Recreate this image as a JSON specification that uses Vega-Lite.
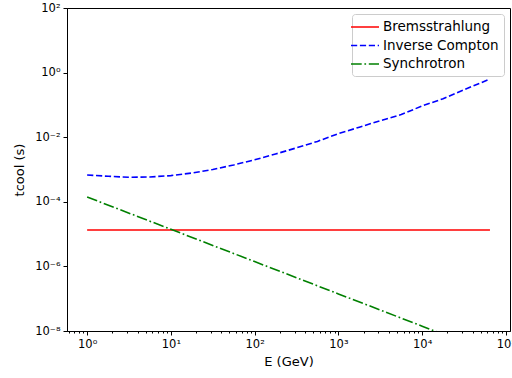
{
  "$schema": "https://vega.github.io/schema/vega-lite/v6.json",
  "autosize": "none",
  "width": 443,
  "height": 323,
  "padding": {"left": 67, "top": 8, "right": 2, "bottom": 47},
  "background": "white",
  "config": {
    "font": "DejaVu Sans",
    "view": {"stroke": "black", "strokeWidth": 1},
    "axis": {
      "grid": false,
      "domainColor": "black",
      "tickColor": "black",
      "labelColor": "black",
      "titleColor": "black",
      "labelFont": "DejaVu Sans",
      "titleFont": "DejaVu Sans",
      "labelFontSize": 11.5,
      "titleFontSize": 13,
      "titleFontWeight": "normal",
      "tickSize": 4,
      "labelPadding": 3,
      "labelFlush": false,
      "labelOverlap": false
    }
  },
  "data": {
    "values": [
      {"E": 1, "t": 0.0000134, "process": "Bremsstrahlung"},
      {"E": 64565, "t": 0.0000134, "process": "Bremsstrahlung"},
      {"E": 1, "t": 0.000676, "process": "Inverse Compton"},
      {"E": 1.778, "t": 0.000617, "process": "Inverse Compton"},
      {"E": 3.162, "t": 0.000575, "process": "Inverse Compton"},
      {"E": 5.623, "t": 0.000589, "process": "Inverse Compton"},
      {"E": 10, "t": 0.000646, "process": "Inverse Compton"},
      {"E": 17.78, "t": 0.000776, "process": "Inverse Compton"},
      {"E": 31.62, "t": 0.001, "process": "Inverse Compton"},
      {"E": 56.23, "t": 0.00138, "process": "Inverse Compton"},
      {"E": 100, "t": 0.002, "process": "Inverse Compton"},
      {"E": 177.8, "t": 0.00302, "process": "Inverse Compton"},
      {"E": 316.2, "t": 0.00468, "process": "Inverse Compton"},
      {"E": 562.3, "t": 0.00741, "process": "Inverse Compton"},
      {"E": 1000, "t": 0.0129, "process": "Inverse Compton"},
      {"E": 1778, "t": 0.0204, "process": "Inverse Compton"},
      {"E": 3162, "t": 0.0324, "process": "Inverse Compton"},
      {"E": 5623, "t": 0.0501, "process": "Inverse Compton"},
      {"E": 10000, "t": 0.093, "process": "Inverse Compton"},
      {"E": 17783, "t": 0.155, "process": "Inverse Compton"},
      {"E": 31623, "t": 0.295, "process": "Inverse Compton"},
      {"E": 64565, "t": 0.631, "process": "Inverse Compton"},
      {"E": 1, "t": 0.000141, "process": "Synchrotron"},
      {"E": 10, "t": 0.0000141, "process": "Synchrotron"},
      {"E": 100, "t": 0.00000141, "process": "Synchrotron"},
      {"E": 1000, "t": 0.000000141, "process": "Synchrotron"},
      {"E": 10000, "t": 0.0000000141, "process": "Synchrotron"},
      {"E": 64565, "t": 0.00000000218, "process": "Synchrotron"}
    ]
  },
  "layer": [
    {
      "mark": {"type": "line", "clip": true, "strokeWidth": 1.6},
      "encoding": {
        "x": {
          "field": "E", "type": "quantitative",
          "scale": {"type": "log", "domain": [0.575, 112000], "nice": false},
          "axis": {
            "orient": "bottom",
            "title": "E (GeV)",
            "values": [1, 10, 100, 1000, 10000, 100000],
            "labelExpr": "'10' + (datum.value < 1 ? '⁻' : '') + ['⁰','¹','²','³','⁴','⁵','⁶','⁷','⁸','⁹'][abs(round(log(datum.value)/LN10))]",
            "titlePadding": 6
          }
        },
        "y": {
          "field": "t", "type": "quantitative",
          "scale": {"type": "log", "domain": [1e-8, 100], "nice": false},
          "axis": {
            "title": "tcool (s)",
            "values": [1e-8, 1e-6, 1e-4, 1e-2, 1, 100],
            "labelExpr": "'10' + (datum.value < 1 ? '⁻' : '') + ['⁰','¹','²','³','⁴','⁵','⁶','⁷','⁸','⁹'][abs(round(log(datum.value)/LN10))]",
            "titlePadding": 8
          }
        },
        "color": {
          "field": "process", "type": "nominal",
          "scale": {"domain": ["Bremsstrahlung", "Inverse Compton", "Synchrotron"], "range": ["#ff0000", "#0000ff", "#008000"]},
          "legend": {
            "title": null,
            "orient": "top-right",
            "offset": 6,
            "fillColor": "white",
            "strokeColor": "#cccccc",
            "cornerRadius": 3,
            "padding": 5,
            "symbolType": "M-2,0H2",
            "symbolSize": 196,
            "symbolStrokeWidth": 1.6,
            "labelFontSize": 13.5,
            "labelFont": "DejaVu Sans",
            "labelColor": "black",
            "rowPadding": 3.5,
            "labelOffset": 10
          }
        },
        "strokeDash": {
          "field": "process", "type": "nominal",
          "scale": {"domain": ["Bremsstrahlung", "Inverse Compton", "Synchrotron"], "range": [[1, 0], [6.2, 2.7], [10.7, 2.7, 1.7, 2.7]]},
          "legend": {
            "title": null,
            "orient": "top-right",
            "offset": 6,
            "fillColor": "white",
            "strokeColor": "#cccccc",
            "cornerRadius": 3,
            "padding": 5,
            "symbolType": "M-2,0H2",
            "symbolSize": 196,
            "symbolStrokeWidth": 1.6,
            "labelFontSize": 13.5,
            "labelFont": "DejaVu Sans",
            "labelColor": "black",
            "rowPadding": 3.5,
            "labelOffset": 10
          }
        }
      }
    },
    {
      "mark": {"type": "point", "opacity": 0},
      "encoding": {
        "x": {
          "field": "E", "type": "quantitative",
          "axis": {
            "orient": "bottom",
            "title": null,
            "labels": false,
            "domain": false,
            "tickSize": 2,
            "values": [0.6, 0.7, 0.8, 0.9, 2, 3, 4, 5, 6, 7, 8, 9, 20, 30, 40, 50, 60, 70, 80, 90, 200, 300, 400, 500, 600, 700, 800, 900, 2000, 3000, 4000, 5000, 6000, 7000, 8000, 9000, 20000, 30000, 40000, 50000, 60000, 70000, 80000, 90000]
          }
        }
      }
    }
  ],
  "resolve": {"axis": {"x": "independent"}}
}
